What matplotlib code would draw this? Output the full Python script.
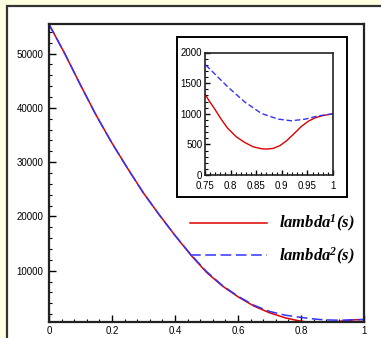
import matplotlib
matplotlib.use("Agg")
import matplotlib.pyplot as plt
from matplotlib.patches import Rectangle
from matplotlib.ticker import MultipleLocator, FuncFormatter

# values
s1 = [0, 0.05, 0.10, 0.15, 0.20, 0.25, 0.30, 0.35, 0.40, 0.45, 0.50, 0.55,
      0.60, 0.65, 0.70, 0.75, 0.7585, 0.7683, 0.7815, 0.7945, 0.811, 0.8274,
      0.8438, 0.8602, 0.870, 0.883, 0.896, 0.9094, 0.9258, 0.939, 0.952,
      0.9652, 0.9783, 1.0]
lam1 = [55400, 50000, 44200, 38600, 33500, 28800, 24300, 20300, 16500, 12900,
        9700, 7200, 5200, 3500, 2250, 1319, 1205, 1086, 912, 760, 624, 532,
        461, 429, 423, 434, 478, 559, 690, 798, 879, 934, 966, 1000]

s2 = [0, 0.05, 0.10, 0.15, 0.20, 0.25, 0.30, 0.35, 0.40, 0.45, 0.50, 0.55,
      0.60, 0.65, 0.70, 0.75, 0.7683, 0.7945, 0.8274, 0.8602, 0.893, 0.919,
      0.9455, 0.9717, 1.0]
lam2 = [55400, 50000, 44200, 38600, 33500, 28800, 24300, 20300, 16500, 13000,
        9850, 7300, 5300, 3650, 2500, 1808, 1656, 1438, 1194, 1005, 912, 885,
        912, 966, 1000]

labels = [r"lambda$^1$(s)", r"lambda$^2$(s)"]

plt.rcParams["font.family"] = ["Liberation Sans", "DejaVu Sans"]
plt.rcParams["mathtext.fontset"] = "custom"
plt.rcParams["mathtext.rm"] = "Liberation Serif:italic:bold"
plt.rcParams["mathtext.it"] = "Liberation Serif:italic:bold"

W, H = 381, 338
fig = plt.figure(figsize=(W / 100, H / 100), dpi=100)
fig.patch.set_facecolor("#FFFFE1")

# white panel with dark border
fig.add_artist(Rectangle((7 / W, -0.05), 1.1, 1 - 6 / H + 0.05,
                         transform=fig.transFigure, facecolor="white",
                         edgecolor="#333333", lw=1.6, zorder=-1))

red = "#DD0000"
blue = "#3333FF"


def style_axes(ax, lw):
    for sp in ax.spines.values():
        sp.set_linewidth(lw)
        sp.set_color("#222222")
    ax.tick_params(which="both", direction="in", labelsize=7, color="black")
    ax.tick_params(which="major", length=5, width=1)
    ax.tick_params(which="minor", length=2.5, width=0.8)
    ax.tick_params(top=False, right=False)
    ax.xaxis.set_major_formatter(FuncFormatter(lambda v, p: "%g" % v))


# main axes
ax = fig.add_axes([49 / W, 1 - 322 / H, 315 / W, 298 / H])
ax.plot(s1, lam1, color=red, lw=1.1, label=labels[0])
ax.plot(s2, lam2, color=blue, lw=1.1, dashes=(7, 3), label=labels[1])
ax.set_xlim(0, 1)
ax.set_ylim(550, 55450)
ax.xaxis.set_major_locator(MultipleLocator(0.2))
ax.xaxis.set_minor_locator(MultipleLocator(0.04))
ax.yaxis.set_major_locator(MultipleLocator(10000))
ax.yaxis.set_minor_locator(MultipleLocator(2000))
style_axes(ax, 1.6)
ax.tick_params(axis="y", pad=4)
ax.tick_params(axis="x", pad=3)
ax.set_yticks([10000, 20000, 30000, 40000, 50000])

leg = ax.legend(loc="upper left", bbox_to_anchor=(0.401, 0.415), frameon=False,
                handlelength=4.6, handletextpad=0.7, labelspacing=0.7,
                prop={"family": "Liberation Serif", "weight": "bold",
                      "style": "italic", "size": 12})

# inset frame
fig.add_artist(Rectangle((177 / W, 1 - 197 / H), 170 / W, 160 / H,
                         transform=fig.transFigure, facecolor="white",
                         edgecolor="black", lw=1.4, zorder=3))

ins = fig.add_axes([205 / W, 1 - 175 / H, 128 / W, 122.5 / H])
ins.set_zorder(5)
ins.plot(s1, lam1, color=red, lw=1.0)
ins.plot(s2, lam2, color=blue, lw=1.0, dashes=(4, 2))
ins.set_xlim(0.75, 1)
ins.set_ylim(0, 2000)
ins.xaxis.set_major_locator(MultipleLocator(0.05))
ins.xaxis.set_minor_locator(MultipleLocator(0.01))
ins.yaxis.set_major_locator(MultipleLocator(500))
ins.yaxis.set_minor_locator(MultipleLocator(100))
style_axes(ins, 1.2)
ins.tick_params(which="major", length=3.5)
ins.tick_params(which="minor", length=2)
ins.tick_params(axis="y", pad=2)
ins.tick_params(axis="x", pad=4)

fig.savefig("out.png", dpi=100, facecolor=fig.get_facecolor())
